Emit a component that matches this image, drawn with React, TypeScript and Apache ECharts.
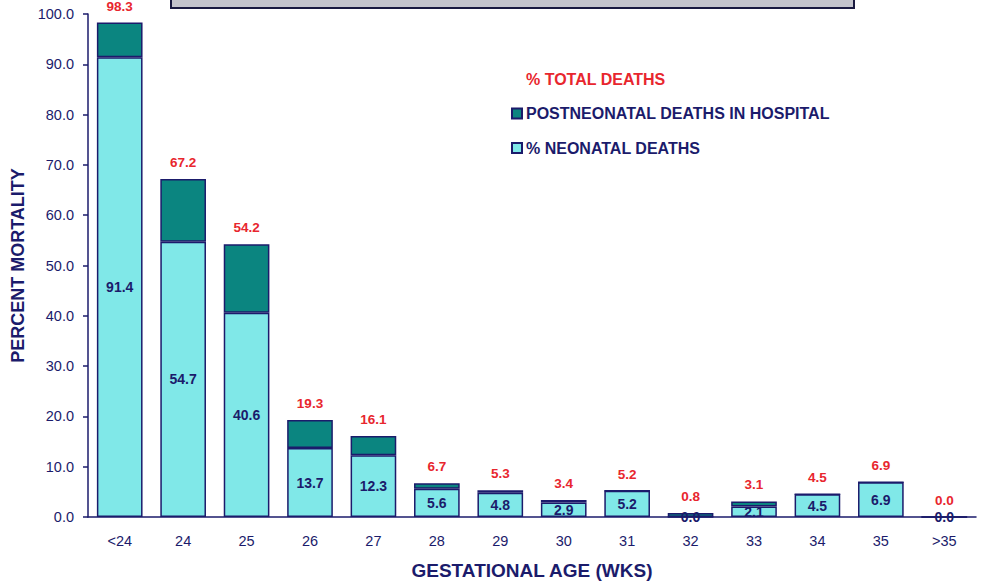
import React, { useEffect, useRef } from "react";
import * as echarts from "echarts";

const categories = ["<24", "24", "25", "26", "27", "28", "29", "30", "31", "32", "33", "34", "35", ">35"];
const neonatal = [91.4, 54.7, 40.6, 13.7, 12.3, 5.6, 4.8, 2.9, 5.2, 0.0, 2.1, 4.5, 6.9, 0.0];
const postneonatal = [6.9, 12.5, 13.6, 5.6, 3.8, 1.1, 0.5, 0.5, 0.0, 0.8, 1.0, 0.0, 0.0, 0.0];
const totals = [98.3, 67.2, 54.2, 19.3, 16.1, 6.7, 5.3, 3.4, 5.2, 0.8, 3.1, 4.5, 6.9, 0.0];

const NAVY = "#1b1b6b";
const RED = "#e8262e";
const FONT = "'Liberation Sans', Arial, sans-serif";

export default function App() {
  const ref = useRef<HTMLDivElement>(null);
  useEffect(() => {
    if (!ref.current) return;
    const chart = echarts.init(ref.current, null, { renderer: "svg" });
    chart.setOption({
      animation: false,
      backgroundColor: "#ffffff",
      textStyle: { fontFamily: FONT },
      grid: { left: 88, right: 5, top: 14, bottom: 69 },
      graphic: [
        {
          type: "rect",
          shape: { x: 171, y: -12, width: 683, height: 20 },
          style: { fill: "#c4c4cc", stroke: "#1a1a40", lineWidth: 2 },
          z: 10,
        },
      ],
      legend: {
        orient: "vertical",
        left: 511,
        top: 71,
        padding: 0,
        itemWidth: 10,
        itemHeight: 10,
        itemGap: 18.5,
        textStyle: { color: NAVY, fontSize: 16, fontWeight: "bold", fontFamily: FONT, padding: [0, 0, 0, -1] },
        data: [
          { name: "% TOTAL DEATHS", icon: "none", textStyle: { color: RED } },
          { name: "POSTNEONATAL DEATHS IN HOSPITAL", icon: "rect" },
          { name: "% NEONATAL DEATHS", icon: "rect" },
        ],
      },
      xAxis: {
        type: "category",
        data: categories,
        name: "GESTATIONAL AGE (WKS)",
        nameLocation: "middle",
        nameGap: 44,
        nameTextStyle: { color: NAVY, fontSize: 19, fontWeight: "bold", fontFamily: FONT },
        axisLine: { lineStyle: { color: NAVY, width: 1.5 } },
        axisTick: { lineStyle: { color: NAVY, width: 1.5 }, length: 5 },
        axisLabel: { color: NAVY, fontSize: 14.5, margin: 16, fontFamily: FONT },
      },
      yAxis: {
        type: "value",
        min: 0,
        max: 100,
        interval: 10,
        name: "PERCENT MORTALITY",
        nameLocation: "middle",
        nameGap: 61,
        nameTextStyle: { color: NAVY, fontSize: 18, fontWeight: "bold", fontFamily: FONT },
        splitLine: { show: false },
        axisLine: { show: true, lineStyle: { color: NAVY, width: 1.5 } },
        axisTick: { show: true, lineStyle: { color: NAVY, width: 1.5 }, length: 5 },
        axisLabel: {
          color: NAVY,
          fontSize: 14.5,
          margin: 14,
          fontFamily: FONT,
          formatter: (v: number) => v.toFixed(1),
        },
      },
      series: [
        {
          name: "% NEONATAL DEATHS",
          type: "bar",
          stack: "total",
          data: neonatal,
          barCategoryGap: "28%",
          itemStyle: { color: "#80e8e8", borderColor: NAVY, borderWidth: 1.5 },
          label: {
            show: true,
            position: "inside",
            color: NAVY,
            fontSize: 14,
            fontWeight: "bold",
            fontFamily: FONT,
            formatter: (p: any) => Number(p.value).toFixed(1),
          },
        },
        {
          name: "POSTNEONATAL DEATHS IN HOSPITAL",
          type: "bar",
          stack: "total",
          data: postneonatal,
          barCategoryGap: "28%",
          itemStyle: { color: "#0b8580", borderColor: NAVY, borderWidth: 1.5 },
        },
        {
          name: "% TOTAL DEATHS",
          type: "line",
          data: totals,
          symbol: "circle",
          symbolSize: 1,
          itemStyle: { color: "rgba(0,0,0,0)" },
          lineStyle: { opacity: 0 },
          label: {
            show: true,
            position: "top",
            distance: 9,
            color: RED,
            fontSize: 13.5,
            fontWeight: "bold",
            fontFamily: FONT,
            formatter: (p: any) => Number(p.value).toFixed(1),
          },
        },
      ],
    });
    return () => chart.dispose();
  }, []);
  return (
    <div
      ref={ref}
      style={{ position: "fixed", left: 0, top: 0, width: 981, height: 586 }}
    />
  );
}
